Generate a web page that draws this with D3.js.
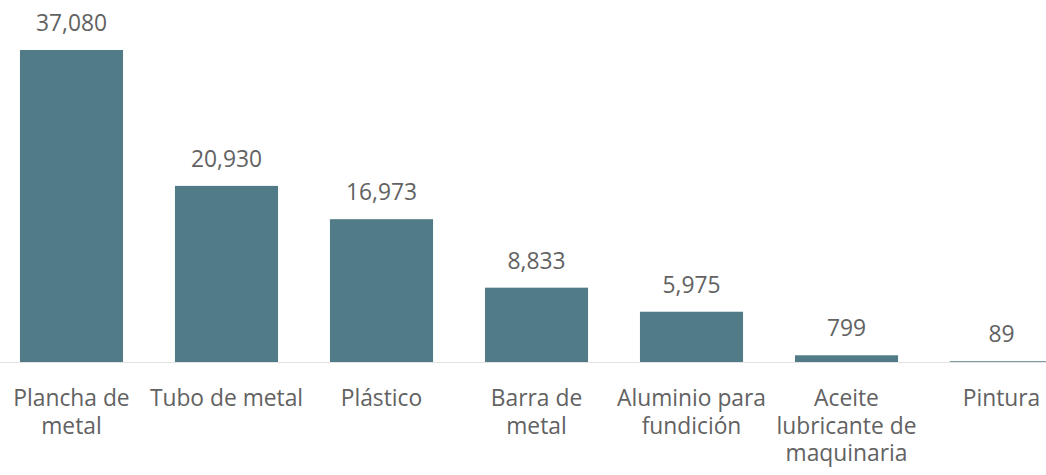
<!DOCTYPE html>
<html>
<head>
<meta charset="utf-8">
<script src="https://cdn.jsdelivr.net/npm/d3@7"></script>
<style>
  html, body { margin: 0; padding: 0; background: #fff; }
  svg { display: block; }
</style>
</head>
<body>
<svg id="chart" width="1046" height="475"></svg>
<script>
const categories = ["Plancha de metal", "Tubo de metal", "Plástico", "Barra de metal", "Aluminio para fundición", "Aceite lubricante de maquinaria", "Pintura"];
const tickLabels = [["Plancha de", "metal"], ["Tubo de metal"], ["Plástico"], ["Barra de", "metal"], ["Aluminio para", "fundición"], ["Aceite", "lubricante de", "maquinaria"], ["Pintura"]];
const values = [37080, 20930, 16973, 8833, 5975, 799, 89];

const W = 1046, H = 475;
const baseY = 362, topY = 50;
const svg = d3.select("#chart");

const x = d3.scaleBand().domain(categories).range([-6, 1079]).paddingInner(0.335).paddingOuter(0.1675);
const y = d3.scaleLinear().domain([0, d3.max(values)]).range([baseY, topY]);

const font = "'Open Sans', sans-serif";
const textColor = "#626262";
const fs = 22.8;

svg.append("line")
  .attr("x1", 0).attr("x2", W)
  .attr("y1", baseY + 0.5).attr("y2", baseY + 0.5)
  .attr("stroke", "#e3e3e3").attr("stroke-width", 1);

const data = categories.map((c, i) => ({ c, v: values[i], lines: tickLabels[i] }));

svg.selectAll("rect.bar").data(data).join("rect")
  .attr("class", "bar")
  .attr("x", d => x(d.c))
  .attr("width", x.bandwidth())
  .attr("y", d => y(d.v))
  .attr("height", d => baseY - y(d.v))
  .attr("fill", "#527b88");

svg.selectAll("text.val").data(data).join("text")
  .attr("class", "val")
  .attr("x", d => x(d.c) + x.bandwidth() / 2)
  .attr("y", d => y(d.v) - 19)
  .attr("text-anchor", "middle")
  .attr("font-family", font)
  .attr("font-size", fs)
  .attr("fill", textColor)
  .text(d => d3.format(",")(d.v));

const lab = svg.selectAll("text.cat").data(data).join("text")
  .attr("class", "cat")
  .attr("text-anchor", "middle")
  .attr("font-family", font)
  .attr("font-size", fs)
  .attr("fill", textColor);
lab.each(function(d) {
  const t = d3.select(this);
  d.lines.forEach((ln, k) => {
    t.append("tspan")
      .attr("x", x(d.c) + x.bandwidth() / 2)
      .attr("y", 406 + k * 27.5)
      .text(ln);
  });
});
</script>
</body>
</html>
